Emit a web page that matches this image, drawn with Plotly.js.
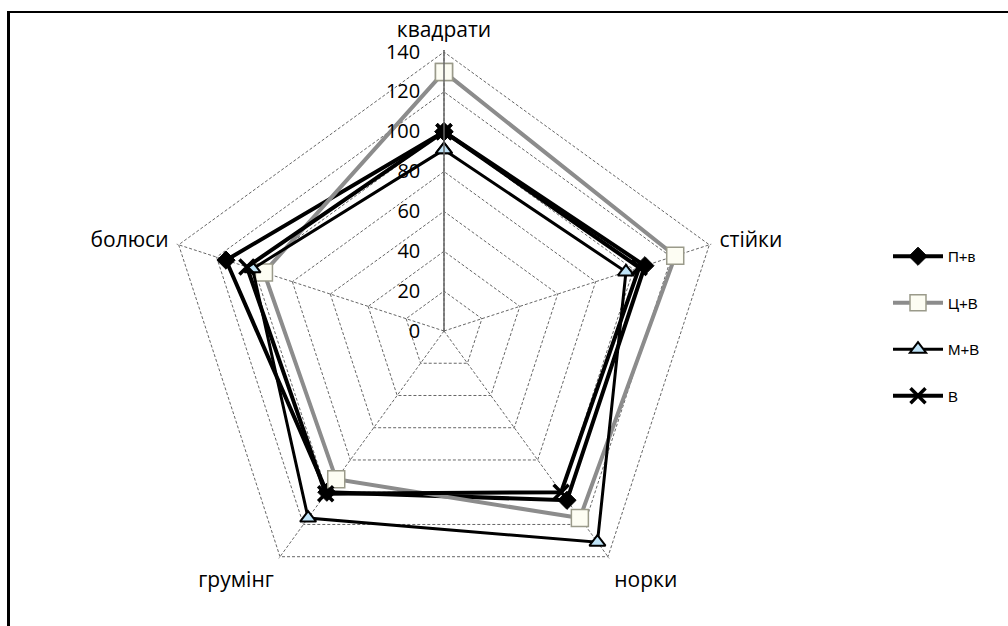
<!DOCTYPE html>
<html>
<head>
<meta charset="utf-8">
<script src="https://cdn.plot.ly/plotly-3.0.1.min.js"></script>
<style>
  html, body { margin: 0; padding: 0; background: #fff; }
  #chart { width: 1008px; height: 626px; }
  #frame { position: absolute; left: 7px; top: 11px; width: 1001px; height: 615px;
           border-top: 2px solid #000; border-left: 3px solid #000; pointer-events: none; box-sizing: border-box; }
</style>
</head>
<body>
<div id="chart"></div>
<div id="frame"></div>
<script>
const categories = ["квадрати", "стійки", "норки", "грумінг", "болюси"];
const seriesNames = ["П+в", "Ц+В", "М+В", "В"];
const pv = [100, 106, 105, 100, 115];
const cv = [130, 122, 116, 92, 95];
const mv = [91, 96, 131, 116, 101];
const v  = [100, 103, 100, 101, 104];
const radialTicks = [0, 20, 40, 60, 80, 100, 120, 140];

function closed(a) { return a.concat([a[0]]); }
const theta = closed(categories);

const styles = [
  { line: { color: "#000", width: 4 }, marker: { symbol: "diamond", size: 14, color: "#000", line: { color: "#000", width: 1 } } },
  { line: { color: "#8c8c8c", width: 4 }, marker: { symbol: "square", size: 17, color: "#fdfdf3", line: { color: "#9a9a8a", width: 1.5 } } },
  { line: { color: "#000", width: 3 }, marker: { symbol: "triangle-up", size: 14, color: "#bfe3f7", line: { color: "#000", width: 2 } } },
  { line: { color: "#000", width: 4 }, marker: { symbol: "x-thin", size: 15, color: "#000", line: { color: "#000", width: 3.5 } } }
];
const values = [pv, cv, mv, v];

const traces = values.map((vals, i) => ({
  type: "scatterpolar",
  mode: "lines+markers",
  r: closed(vals),
  theta: theta,
  name: seriesNames[i],
  legendgroup: "g" + i,
  line: styles[i].line,
  marker: styles[i].marker,
  hoverinfo: "r+theta+name"
}));

const W = 1008, H = 626;
const rMax = 141;
const cx = 444, cy = 331, R = 279 * rMax / 140;

const layout = {
  width: W, height: H,
  margin: { l: 0, r: 0, t: 0, b: 0 },
  paper_bgcolor: "#fff",
  showlegend: true,
  legend: {
    x: 888 / W, y: 1 - 240 / H, xanchor: "left", yanchor: "top",
    font: { family: "Liberation Sans Narrow, Liberation Sans, Arial, sans-serif", size: 15, color: "#000" },
    traceorder: "grouped", tracegroupgap: 24, bgcolor: "rgba(0,0,0,0)", itemwidth: 50
  },
  polar: {
    domain: { x: [(cx - R) / W, (cx + R) / W], y: [(H - cy - R) / H, (H - cy + R) / H] },
    gridshape: "linear",
    bgcolor: "#fff",
    radialaxis: {
      range: [0, rMax], tickvals: radialTicks, ticktext: radialTicks.map(String),
      angle: 90, side: "counterclockwise", tickangle: 90,
      showline: true, linecolor: "#666", linewidth: 1.5,
      gridcolor: "#666", gridwidth: 1, griddash: "3px,2px",
      ticks: "outside", ticklen: 16, tickwidth: 0, tickcolor: "rgba(0,0,0,0)",
      tickfont: { family: "Open Sans, Noto Sans, sans-serif", size: 20, color: "#000" }
    },
    angularaxis: {
      type: "category", categoryarray: categories,
      rotation: 90, direction: "clockwise",
      showline: false, gridcolor: "#666", gridwidth: 1, griddash: "3px,2px",
      ticks: "outside", ticklen: 4, tickwidth: 0, tickcolor: "rgba(0,0,0,0)",
      tickfont: { family: "Open Sans, Noto Sans, sans-serif", size: 21, color: "#000" }
    }
  }
};

Plotly.newPlot("chart", traces, layout, { displayModeBar: false, staticPlot: true });
</script>
</body>
</html>
